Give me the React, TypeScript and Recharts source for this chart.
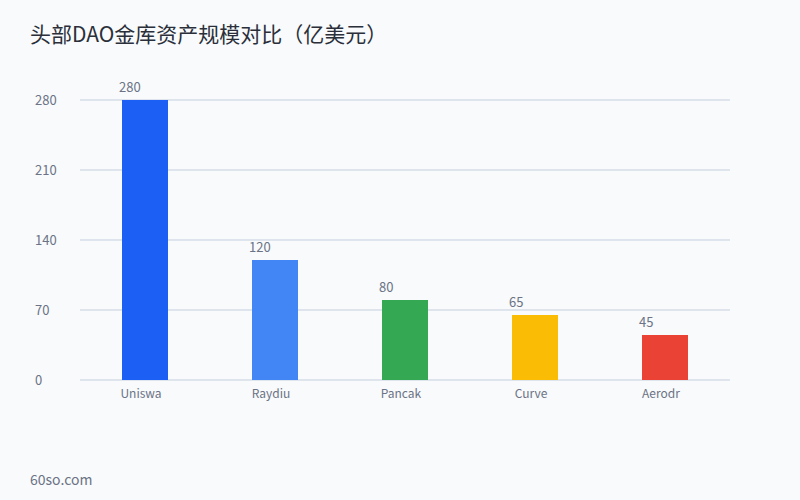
import { BarChart, Bar, XAxis, YAxis, CartesianGrid, Cell, LabelList } from "recharts";

const protocols = ["Uniswa", "Raydiu", "Pancak", "Curve", "Aerodr"];
const treasury = [280, 120, 80, 65, 45];
const barColors = ["#1c5ff5", "#4285f4", "#34a853", "#fbbc05", "#ea4335"];
const yTicks = [0, 70, 140, 210, 280];

const chartData = protocols.map((name, i) => ({
  name,
  value: treasury[i],
  color: barColors[i],
}));

const FONT = '"Noto Sans CJK SC", "Noto Sans", sans-serif';
const MUTED = "#6b7385";

function YTick(props: any) {
  const { y, payload } = props;
  return (
    <text x={35} y={y} dy="0.35em" textAnchor="start" fill={MUTED} fontSize={13} fontFamily={FONT}>
      {payload.value}
    </text>
  );
}

// category labels sit a few px left of the bar centre
function XTick(props: any) {
  const { x, y, payload } = props;
  return (
    <text x={x - 4} y={y + 1} dy="0.71em" textAnchor="middle" fill={MUTED} fontSize={12} fontFamily={FONT}>
      {payload.value}
    </text>
  );
}

function TopLabel(props: any) {
  const { x, y, value } = props;
  return (
    <text x={x - 3} y={y - 8} textAnchor="start" fill={MUTED} fontSize={13} fontFamily={FONT}>
      {value}
    </text>
  );
}

export default function App() {
  return (
    <div
      style={{
        position: "absolute",
        top: 0,
        left: 0,
        width: 800,
        height: 500,
        background: "#f8fafc",
        fontFamily: FONT,
      }}
    >
      <div
        style={{
          position: "absolute",
          left: 30,
          top: 18,
          fontSize: 21,
          color: "#2a2f3a",
          lineHeight: "30px",
        }}
      >
        头部DAO金库资产规模对比（亿美元）
      </div>
      <BarChart
        width={800}
        height={500}
        data={chartData}
        margin={{ top: 100, right: 70, left: 0, bottom: 90 }}
      >
        <CartesianGrid vertical={false} stroke="#c6cfdd" />
        <XAxis
          dataKey="name"
          axisLine={false}
          tickLine={false}
          height={30}
          tick={<XTick />}
        />
        <YAxis
          width={80}
          domain={[0, 280]}
          ticks={yTicks}
          axisLine={false}
          tickLine={false}
          tick={<YTick />}
        />
        <Bar dataKey="value" barSize={46} isAnimationActive={false}>
          {chartData.map((d, i) => (
            <Cell key={i} fill={d.color} />
          ))}
          <LabelList dataKey="value" content={<TopLabel />} />
        </Bar>
      </BarChart>
      <div
        style={{
          position: "absolute",
          left: 30,
          top: 469,
          fontSize: 14,
          color: MUTED,
        }}
      >
        60so.com
      </div>
    </div>
  );
}
